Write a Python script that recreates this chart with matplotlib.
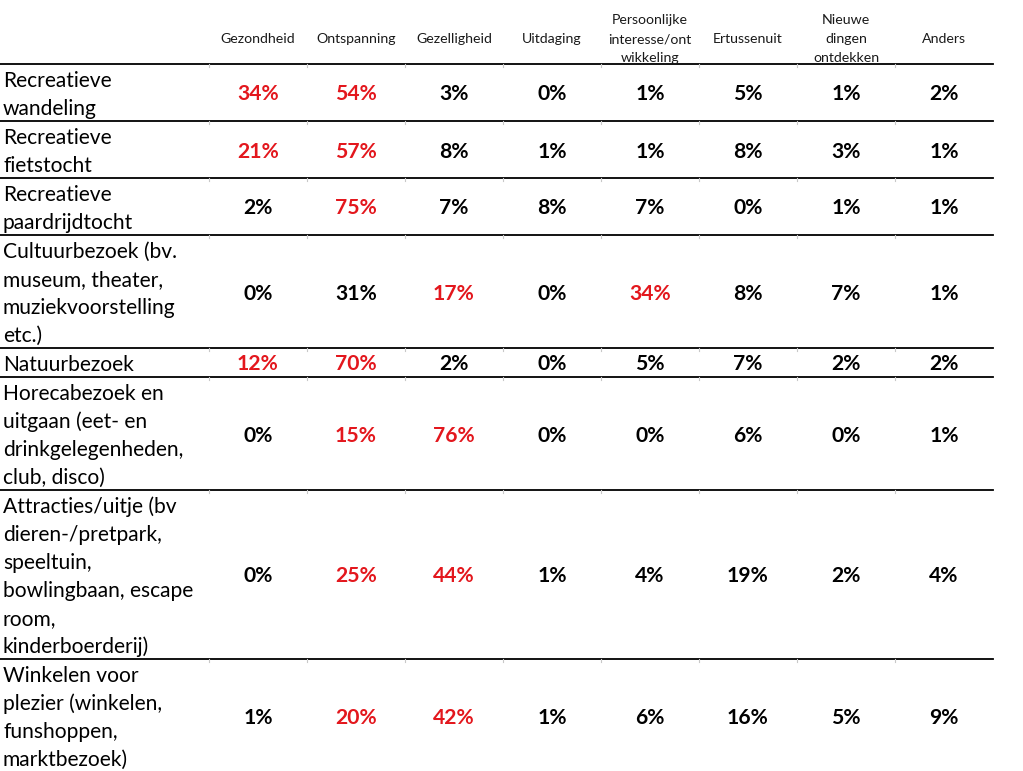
import matplotlib.pyplot as plt

# column headers and row labels (as wrapped in the original table)
columns = ["Gezondheid", "Ontspanning", "Gezelligheid", "Uitdaging",
           "Persoonlijke\ninteresse/ont\nwikkeling", "Ertussenuit",
           "Nieuwe\ndingen\nontdekken", "Anders"]
rows = [
    "Recreatieve\nwandeling",
    "Recreatieve\nfietstocht",
    "Recreatieve\npaardrijdtocht",
    "Cultuurbezoek (bv.\nmuseum, theater,\nmuziekvoorstelling\netc.)",
    "Natuurbezoek",
    "Horecabezoek en\nuitgaan (eet- en\ndrinkgelegenheden,\nclub, disco)",
    "Attracties/uitje (bv\ndieren-/pretpark,\nspeeltuin,\nbowlingbaan, escape\nroom,\nkinderboerderij)",
    "Winkelen voor\nplezier (winkelen,\nfunshoppen,\nmarktbezoek)",
]

# percentages per row
values = [
    [34, 54, 3, 0, 1, 5, 1, 2],
    [21, 57, 8, 1, 1, 8, 3, 1],
    [2, 75, 7, 8, 7, 0, 1, 1],
    [0, 31, 17, 0, 34, 8, 7, 1],
    [12, 70, 2, 0, 5, 7, 2, 2],
    [0, 15, 76, 0, 0, 6, 0, 1],
    [0, 25, 44, 1, 4, 19, 2, 4],
    [1, 20, 42, 1, 6, 16, 5, 9],
]

# cells printed in red in the original
highlight = [
    [1, 1, 0, 0, 0, 0, 0, 0],
    [1, 1, 0, 0, 0, 0, 0, 0],
    [0, 1, 0, 0, 0, 0, 0, 0],
    [0, 0, 1, 0, 1, 0, 0, 0],
    [1, 1, 0, 0, 0, 0, 0, 0],
    [0, 1, 1, 0, 0, 0, 0, 0],
    [0, 1, 1, 0, 0, 0, 0, 0],
    [0, 1, 1, 0, 0, 0, 0, 0],
]

RED = "#e3171d"
FONT = "Lato"

fig = plt.figure(figsize=(10.23, 7.71), dpi=100)
ax = fig.add_axes([0, 0, 1, 1])
ax.set_xlim(0, 1023)
ax.set_ylim(771, 0)
ax.axis("off")

col_x0 = 209
col_w = 98
line_h = 28
header_bottom = 64
table_right = 993

# header
for j, col in enumerate(columns):
    cx = col_x0 + col_w * (j + 0.5)
    parts = col.split("\n")
    n = len(parts)
    for k, p in enumerate(parts):
        y = 43 + (k - (n - 1) / 2) * 18.5
        ax.text(cx, y, p, ha="center", va="baseline", fontsize=10.2,
                family=FONT, color="#1a1a1a")

ax.plot([0, table_right], [header_bottom, header_bottom], color="black", lw=1.3)

top = header_bottom
for i, label in enumerate(rows):
    parts = label.split("\n")
    h = line_h * len(parts) + 1
    for k, p in enumerate(parts):
        ax.text(3, top + 23 + line_h * k, p, ha="left", va="baseline",
                fontsize=15.1, family=FONT, color="black")
    mid = top + h / 2
    for j, v in enumerate(values[i]):
        cx = col_x0 + col_w * (j + 0.5)
        ax.text(cx, mid + 8, f"{v}%", ha="center", va="baseline",
                fontsize=15.2, fontweight="bold", family=FONT,
                color=RED if highlight[i][j] else "black")
    # faint cell separators just under the rule
    for j in range(len(columns)):
        bx = col_x0 + col_w * j
        ax.plot([bx, bx], [top, top + 3], color="#c8c8c8", lw=0.8)
    top += h
    if i < len(rows) - 1:
        ax.plot([0, table_right], [top, top], color="black", lw=1.3)

fig.savefig("out.png", dpi=100, facecolor="white")
